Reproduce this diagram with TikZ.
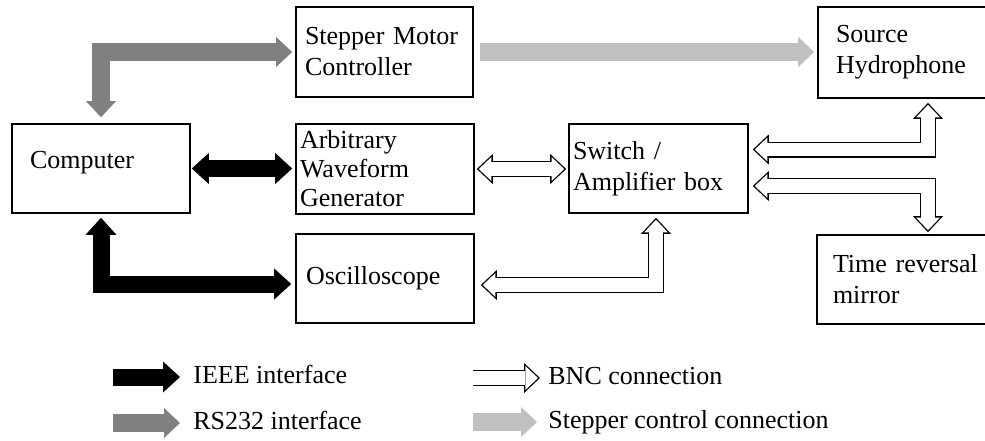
\documentclass[tikz,border=0pt]{standalone}
\usepackage{fontspec}
\setmainfont{Liberation Serif}
\usetikzlibrary{arrows.meta}
\definecolor{rsgray}{RGB}{128,128,128}
\definecolor{stepgray}{RGB}{192,192,192}
\tikzset{
  unit/.style={draw,line width=0.8pt,align=left,inner ysep=0pt,minimum height=44.5pt,font=\fontsize{13}{15.5}\selectfont},
  legtext/.style={anchor=west,inner sep=0pt,text height=9pt,text depth=2.5pt,font=\fontsize{13}{15.5}\selectfont},
  blk/.tip={Triangle[width=15.5pt,length=8.5pt,line width=0pt]},
  gry/.tip={Triangle[width=15pt,length=8pt,line width=0pt]},
  bncout/.tip={Triangle[width=15pt,length=8pt,line width=0pt]},
  bncin/.tip={Triangle[width=12pt,length=6.3pt,line width=0pt]},
  ieee/.style={line width=8.5pt,line join=miter,black},
  rs232/.style={line width=9pt,line join=miter,rsgray},
  stepctl/.style={line width=9pt,stepgray},
  bnc/.style={line width=6.6pt,line join=miter,white,bncin-bncin,shorten <=1pt,shorten >=1pt,
    preaction={draw=black,line width=8pt,shorten <=0pt,shorten >=0pt,bncout-bncout}},
  bncone/.style={line width=6.6pt,white,-bncin,shorten >=1pt,
    preaction={draw=black,line width=8pt,shorten >=0pt,-bncout}},
}
\begin{document}
\begin{tikzpicture}[x=0.5pt,y=-0.5pt]
\useasboundingbox (0,0) rectangle (985,440);
\clip (0,0) rectangle (985,440);
% boxes
\node[unit,text width=79.5pt,inner xsep=4.5pt,minimum height=45pt] (smc) at (384.5,52) {Stepper Motor\\Controller};
\node[unit,text width=73pt,inner xsep=9pt,minimum height=45.5pt] (hyd) at (909,52.5) {Source\\Hydrophone};
\node[unit,text width=71pt,inner xsep=9pt,text depth=9pt] (comp) at (101,168.5) {Computer};
\node[unit,text width=85pt,inner xsep=2pt,minimum height=45pt,font=\fontsize{13}{14.5}\selectfont] (awg) at (385,169) {Arbitrary\\Waveform\\Generator};
\node[unit,text width=85.5pt,inner xsep=2pt] (amp) at (658.5,168.5) {Switch /\\Amplifier box};
\node[unit,text width=79pt,inner xsep=5pt] (osc) at (385,278.5) {Oscilloscope};
\node[unit,text width=75.5pt,inner xsep=8pt] (trm) at (908.5,279.5) {Time reversal\\mirror};
% connections
\draw[rs232,gry-gry] ([yshift=3pt]comp.north) |- ([xshift=-1.5pt]smc.west);
\draw[stepctl,-gry] ([xshift=3pt]smc.east) -- ([xshift=-1.5pt]hyd.west |- smc.east);
\draw[ieee,blk-blk] ([xshift=0.5pt]comp.east) -- ([xshift=-1.5pt]awg.west |- comp.east);
\draw[ieee,blk-blk] ([yshift=-2pt]comp.south) |- ([xshift=-2pt,yshift=-2.75pt]osc.west);
\draw[bnc] ([xshift=1pt]awg.east) -- ([xshift=-1pt]amp.west |- awg.east);
\draw[bnc] ([xshift=3pt,yshift=-3.25pt]osc.east) -| ([xshift=-1.25pt,yshift=-2pt]amp.south);
\draw[bnc] ([xshift=2pt,yshift=9.5pt]amp.east) -| ([xshift=9.5pt,yshift=-2pt]hyd.south);
\draw[bnc] ([xshift=2pt,yshift=-8.75pt]amp.east) -| ([xshift=9.75pt,yshift=1pt]trm.north);
% legend
\node[legtext] (lieee) at (193,377) {IEEE interface};
\node[legtext] (lrs) at (193,423) {RS232 interface};
\node[legtext] (lbnc) at (548,378) {BNC connection};
\node[legtext] (lstep) at (548,422) {Stepper control connection};
\draw[ieee,-blk] ([xshift=-40pt]lieee.west) -- ([xshift=-6.5pt]lieee.west);
\draw[rs232,-gry] ([xshift=-40pt]lrs.west) -- ([xshift=-6.5pt]lrs.west);
\draw[bncone] ([xshift=-37.5pt]lbnc.west) -- ([xshift=-4pt]lbnc.west);
\draw[stepctl,-gry] ([xshift=-37.5pt]lstep.west) -- ([xshift=-5.5pt]lstep.west);
\end{tikzpicture}
\end{document}
